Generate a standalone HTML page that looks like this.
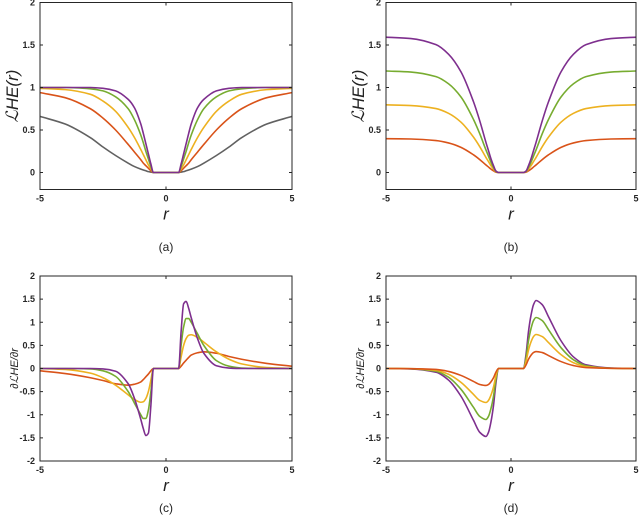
<!DOCTYPE html>
<html><head><meta charset="utf-8"><style>
body{margin:0;background:#fff;width:640px;height:527px;overflow:hidden}
svg text{font-family:"Liberation Sans",sans-serif}
</style></head><body>
<svg id="fig" width="640" height="527" xmlns="http://www.w3.org/2000/svg"></svg>
<script>
const R=[-5,-4,-3,-2.5,-2,-1.5,-1.25,-1,-0.9,-0.8,-0.7,-0.6,-0.5,0,0.5,0.6,0.7,0.8,0.9,1,1.25,1.5,2,2.5,3,4,5];
// panel a
const aGray=[0.66,0.57,0.41,0.3,0.2,0.11,0.07,0.04,0.03,0.02,0.01,0.005,0,0,0,0.005,0.01,0.02,0.03,0.04,0.07,0.11,0.2,0.3,0.41,0.57,0.66];
const aRed=[0.94,0.88,0.75,0.64,0.5,0.33,0.24,0.15,0.11,0.08,0.05,0.02,0,0,0,0.02,0.05,0.08,0.11,0.15,0.24,0.33,0.5,0.64,0.75,0.88,0.94];
const aOrange=[0.99,0.975,0.92,0.84,0.72,0.53,0.41,0.27,0.21,0.15,0.09,0.04,0,0,0,0.04,0.09,0.15,0.21,0.27,0.41,0.53,0.72,0.84,0.92,0.975,0.99];
const aGreen=[1,1,0.985,0.96,0.89,0.75,0.62,0.44,0.35,0.25,0.16,0.07,0,0,0,0.07,0.16,0.25,0.35,0.44,0.62,0.75,0.89,0.96,0.985,1,1];
const aPurple=[1,1,1,0.99,0.96,0.86,0.76,0.57,0.46,0.34,0.22,0.1,0,0,0,0.1,0.22,0.34,0.46,0.57,0.76,0.86,0.96,0.99,1,1,1];
// panel b
const bRed=[0.398,0.394,0.376,0.348,0.296,0.208,0.152,0.088,0.064,0.04,0.02,0.004,0,0,0,0.004,0.02,0.04,0.064,0.088,0.152,0.208,0.296,0.348,0.376,0.394,0.398];
const bOrange=[0.796,0.788,0.752,0.696,0.592,0.416,0.304,0.176,0.128,0.08,0.04,0.008,0,0,0,0.008,0.04,0.08,0.128,0.176,0.304,0.416,0.592,0.696,0.752,0.788,0.796];
const bGreen=[1.194,1.182,1.128,1.044,0.888,0.624,0.456,0.264,0.192,0.12,0.06,0.012,0,0,0,0.012,0.06,0.12,0.192,0.264,0.456,0.624,0.888,1.044,1.128,1.182,1.194];
const bPurple=[1.592,1.576,1.504,1.392,1.184,0.832,0.608,0.352,0.256,0.16,0.08,0.016,0,0,0,0.016,0.08,0.16,0.256,0.352,0.608,0.832,1.184,1.392,1.504,1.576,1.592];
// panel c
const cRed=[-0.05,-0.11,-0.2,-0.26,-0.33,-0.36,-0.34,-0.29,-0.24,-0.18,-0.12,-0.05,0,0,0,0.05,0.12,0.18,0.24,0.29,0.34,0.36,0.33,0.26,0.2,0.11,0.05];
const cOrange=[0,-0.02,-0.1,-0.2,-0.36,-0.57,-0.67,-0.73,-0.72,-0.65,-0.5,-0.25,0,0,0,0.25,0.5,0.65,0.72,0.73,0.67,0.57,0.36,0.2,0.1,0.02,0];
const cGreen=[0,0,-0.01,-0.05,-0.17,-0.5,-0.75,-1.0,-1.08,-1.08,-0.9,-0.5,0,0,0,0.5,0.9,1.08,1.08,1.0,0.75,0.5,0.17,0.05,0.01,0,0];
const cPurple=[0,0,0,-0.01,-0.06,-0.33,-0.65,-1.1,-1.3,-1.45,-1.4,-0.8,0,0,0,0.8,1.4,1.45,1.3,1.1,0.65,0.33,0.06,0.01,0,0,0];
// panel d
const dPurple=[0,-0.01,-0.08,-0.25,-0.6,-1.12,-1.38,-1.47,-1.38,-1.15,-0.8,-0.3,0,0,0,0.3,0.8,1.15,1.38,1.47,1.38,1.12,0.6,0.25,0.08,0.01,0];
const dGreen=dPurple.map(v=>+(v*0.75).toFixed(3));
const dOrange=dPurple.map(v=>+(v*0.5).toFixed(3));
const dRed=dPurple.map(v=>+(v*0.25).toFixed(3));

const C={gray:"#616161",red:"#D95319",orange:"#EDB120",green:"#77AC30",purple:"#7E2F8E"};
const svg=document.getElementById('fig');
const NS="http://www.w3.org/2000/svg";
function el(t,a,p){const e=document.createElementNS(NS,t);for(const k in a)e.setAttribute(k,a[k]);(p||svg).appendChild(e);return e;}

function monoPath(xs,ys){
  const n=xs.length,d=[],m=[];
  for(let i=0;i<n-1;i++)d.push((ys[i+1]-ys[i])/(xs[i+1]-xs[i]));
  m[0]=d[0];m[n-1]=d[n-2];
  for(let i=1;i<n-1;i++){if(d[i-1]*d[i]<=0)m[i]=0;else{m[i]=3*(d[i-1]+d[i])/(2/d[i-1]*d[i]+2*d[i]/d[i-1]+2)*0+ (2*d[i-1]*d[i])/(d[i-1]+d[i]);}}
  let s=`M${xs[0].toFixed(2)},${ys[0].toFixed(2)}`;
  for(let i=0;i<n-1;i++){const h=(xs[i+1]-xs[i])/3;
    s+=`C${(xs[i]+h).toFixed(2)},${(ys[i]+m[i]*h).toFixed(2)} ${(xs[i+1]-h).toFixed(2)},${(ys[i+1]-m[i+1]*h).toFixed(2)} ${xs[i+1].toFixed(2)},${ys[i+1].toFixed(2)}`;}
  return s;
}

function panel(o){
  const g=el('g',{});
  
  
  const X=v=>o.x0+(v+5)/10*(o.x1-o.x0);
  const Y=v=>o.yz-(v)*o.k;
  const top=Y(2),bot=Y(o.ymin);
  // curves
  o.series.forEach(([arr,col,nm])=>{
    const p=el('path',{d:monoPath(R.map(X),arr.map(Y)),fill:'none',stroke:C[col],'stroke-width':1.6,'stroke-linejoin':'round'},g);
    
    
  });
  // box
  const b=el('rect',{x:o.x0,y:top,width:o.x1-o.x0,height:bot-top,fill:'none',stroke:'#262626','stroke-width':1},g);
  
  
  // x ticks
  [-5,0,5].forEach(v=>{
    el('line',{x1:X(v),x2:X(v),y1:bot,y2:bot-3,stroke:'#262626'},g);
    el('line',{x1:X(v),x2:X(v),y1:top,y2:top+3,stroke:'#262626'},g);
    const t=el('text',{x:X(v),y:bot+12,'text-anchor':'middle','font-size':9,'font-weight':'bold',fill:'#262626'},g);
    t.textContent=v;
    
    
  });
  o.yt.forEach(v=>{
    el('line',{x1:o.x0,x2:o.x0+3,y1:Y(v),y2:Y(v),stroke:'#262626'},g);
    el('line',{x1:o.x1,x2:o.x1-3,y1:Y(v),y2:Y(v),stroke:'#262626'},g);
    const t=el('text',{x:o.x0-5,y:Y(v)+3,'text-anchor':'end','font-size':9,'font-weight':'bold',fill:'#262626'},g);
    t.textContent=v;
    
    
  });
  const xl=el('text',{x:(o.x0+o.x1)/2,y:bot+30,'text-anchor':'middle','font-size':17,'font-style':'italic','font-family':'Liberation Serif,serif',fill:'#222'},g);
  xl.textContent='r';
  
  
  const yl=el('text',{transform:`translate(${o.x0-22},${(top+bot)/2}) rotate(-90)`,'text-anchor':'middle','font-size':o.deriv?11:17,'font-style':'italic','font-family':'Liberation Serif,serif',fill:'#222'},g);
  yl.textContent=o.deriv?'∂ℒHE/∂r':'ℒHE(r)';
  
  
  const cp=el('text',{x:(o.x0+o.x1)/2,y:o.capY,'text-anchor':'middle','font-size':12,'font-family':'Liberation Serif,serif',fill:'#222'},g);
  cp.textContent=o.cap;
  
  
}
const yt1=[0,0.5,1,1.5,2],yt2=[-2,-1.5,-1,-0.5,0,0.5,1,1.5,2];
panel({name:'panel-a',x0:40,x1:292,yz:172.5,k:85,ymin:-0.2,yt:yt1,cap:'(a)',capY:251,
  series:[[aGray,'gray','curve-gray'],[aRed,'red','curve-red'],[aOrange,'orange','curve-orange'],[aGreen,'green','curve-green'],[aPurple,'purple','curve-purple']]});
panel({name:'panel-b',x0:386,x1:636,yz:172.5,k:85,ymin:-0.2,yt:yt1,cap:'(b)',capY:251,
  series:[[bRed,'red','curve-red'],[bOrange,'orange','curve-orange'],[bGreen,'green','curve-green'],[bPurple,'purple','curve-purple']]});
panel({name:'panel-c',x0:40,x1:292,yz:368.5,k:46.25,ymin:-2,yt:yt2,cap:'(c)',capY:512,deriv:true,
  series:[[cRed,'red','curve-red'],[cOrange,'orange','curve-orange'],[cGreen,'green','curve-green'],[cPurple,'purple','curve-purple']]});
panel({name:'panel-d',x0:386,x1:636,yz:368.5,k:46.25,ymin:-2,yt:yt2,cap:'(d)',capY:512,deriv:true,
  series:[[dPurple,'purple','curve-purple'],[dGreen,'green','curve-green'],[dOrange,'orange','curve-orange'],[dRed,'red','curve-red']]});
</script>
</body></html>
